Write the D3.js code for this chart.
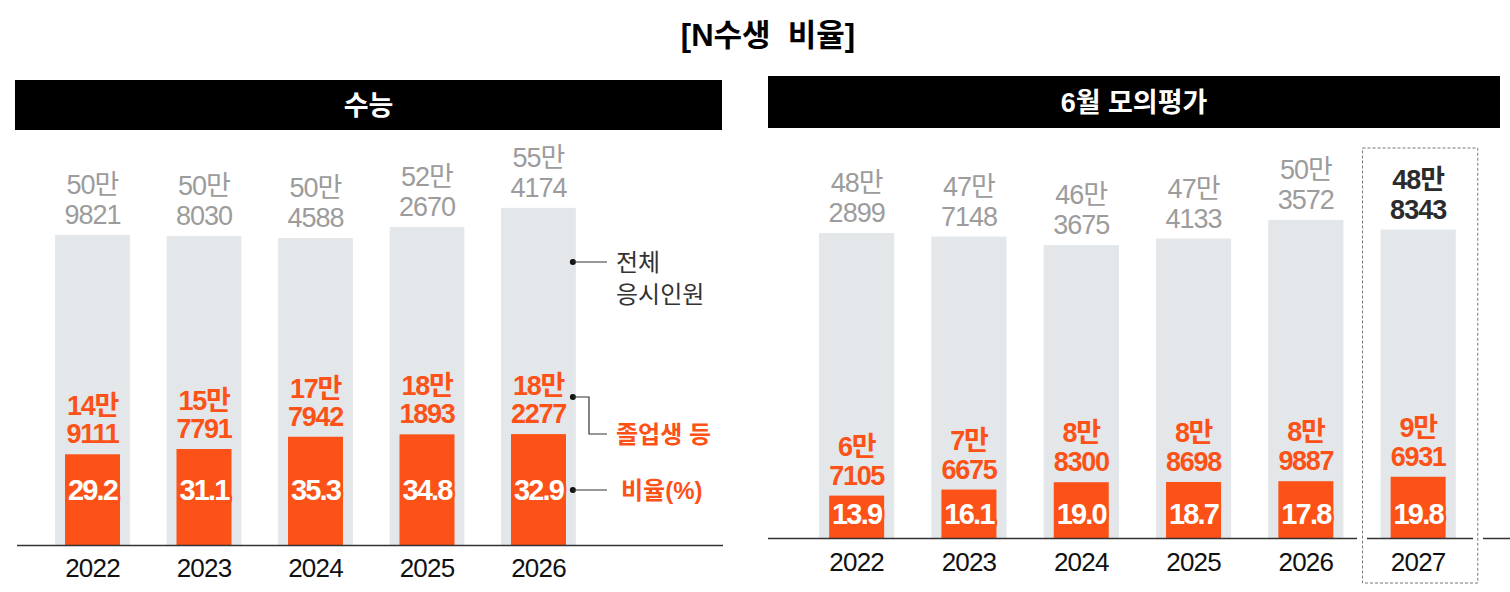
<!DOCTYPE html>
<html>
<head>
<meta charset="utf-8">
<script src="https://cdn.jsdelivr.net/npm/d3@7"></script>
<style>
  body { margin: 0; background: #fff; }
  svg text { font-family: "Liberation Sans", Arial, "Noto Sans CJK KR", sans-serif; }
</style>
</head>
<body>
<div id="chart"></div>
<script>
// 수능
var suneungYears = ["2022", "2023", "2024", "2025", "2026"];
var suneungTotal = [509821, 508030, 504588, 522670, 554174];
var suneungGrad = [149111, 157791, 177942, 181893, 182277];
var suneungRate = [29.2, 31.1, 35.3, 34.8, 32.9];

// 6월 모의평가
var mockYears = ["2022", "2023", "2024", "2025", "2026", "2027"];
var mockTotal = [482899, 477148, 463675, 474133, 503572, 488343];
var mockGrad = [67105, 76675, 88300, 88698, 89887, 96931];
var mockRate = [13.9, 16.1, 19.0, 18.7, 17.8, 19.8];

var orange = "#fc5117",
    lightGray = "#e3e7ea",
    labelGray = "#9c9c9c";

var svg = d3.select("#chart").append("svg")
    .attr("width", 1510)
    .attr("height", 592);

svg.append("text")
    .attr("x", 768)
    .attr("y", 46)
    .attr("text-anchor", "middle")
    .style("font-size", "31px")
    .style("font-weight", "bold")
    .attr("fill", "#000")
    .style("white-space", "pre")
    .text("[N수생  비율]");

function man(v) {
    return [Math.floor(v / 10000) + "만", d3.format("04d")(v % 10000)];
}

function panel(opt) {
    var rows = opt.years.map(function(y, i) {
        return { year: y, total: opt.total[i], grad: opt.grad[i], rate: opt.rate[i] };
    });

    var x = d3.scaleBand()
        .domain(opt.years)
        .range(opt.xRange)
        .paddingInner(0.33)
        .paddingOuter(0.165);

    var y = d3.scaleLinear()
        .domain([0, 600000])
        .range([opt.base, opt.yTop]);

    var g = svg.append("g");

    // header bar
    g.append("rect")
        .attr("x", opt.head[0])
        .attr("y", opt.head[1])
        .attr("width", opt.head[2] - opt.head[0])
        .attr("height", opt.head[3] - opt.head[1])
        .attr("fill", "#000");

    g.append("text")
        .attr("x", (opt.head[0] + opt.head[2]) / 2)
        .attr("y", (opt.head[1] + opt.head[3]) / 2 + 10)
        .attr("text-anchor", "middle")
        .attr("fill", "#fff")
        .style("font-size", "27px")
        .style("font-weight", "bold")
        .text(opt.title);

    var bw = x.bandwidth(),
        ow = 55;

    g.selectAll(".total")
        .data(rows)
        .join("rect")
        .attr("class", "total")
        .attr("x", d => x(d.year))
        .attr("y", d => y(d.total))
        .attr("width", bw)
        .attr("height", d => opt.base - y(d.total))
        .attr("fill", lightGray);

    g.selectAll(".grad")
        .data(rows)
        .join("rect")
        .attr("class", "grad")
        .attr("x", d => x(d.year) + (bw - ow) / 2)
        .attr("y", d => y(d.grad))
        .attr("width", ow)
        .attr("height", d => opt.base - y(d.grad))
        .attr("fill", orange);

    // total labels
    var tl = g.selectAll(".tlabel")
        .data(rows)
        .join("text")
        .attr("class", "tlabel")
        .attr("text-anchor", "middle")
        .attr("fill", d => d.year === opt.highlight ? "#2b2b2b" : labelGray)
        .style("font-size", "27px")
        .style("letter-spacing", "-1px")
        .style("font-weight", d => d.year === opt.highlight ? "bold" : "normal");
    tl.append("tspan")
        .attr("x", d => x(d.year) + bw / 2)
        .attr("y", d => y(d.total) - 41)
        .text(d => man(d.total)[0]);
    tl.append("tspan")
        .attr("x", d => x(d.year) + bw / 2)
        .attr("y", d => y(d.total) - 11)
        .text(d => man(d.total)[1]);

    // grad labels
    var gl = g.selectAll(".glabel")
        .data(rows)
        .join("text")
        .attr("class", "glabel")
        .attr("text-anchor", "middle")
        .attr("fill", orange)
        .style("font-size", "27px")
        .style("font-weight", "bold")
        .style("letter-spacing", "-1.3px");
    gl.append("tspan")
        .attr("x", d => x(d.year) + bw / 2)
        .attr("y", d => y(d.grad) - 11 - opt.gradGap)
        .text(d => man(d.grad)[0]);
    gl.append("tspan")
        .attr("x", d => x(d.year) + bw / 2)
        .attr("y", d => y(d.grad) - 11)
        .text(d => man(d.grad)[1]);

    // rate labels
    g.selectAll(".rlabel")
        .data(rows)
        .join("text")
        .attr("class", "rlabel")
        .attr("x", d => x(d.year) + bw / 2)
        .attr("y", opt.base - opt.rateOff + 10)
        .attr("text-anchor", "middle")
        .attr("fill", "#fff")
        .attr("stroke", orange)
        .attr("stroke-width", 5)
        .attr("stroke-linejoin", "round")
        .style("paint-order", "stroke")
        .style("font-size", "29px")
        .style("font-weight", "bold")
        .style("letter-spacing", "-1.8px")
        .text(d => d3.format(".1f")(d.rate));

    // year axis
    var axis = g.append("g")
        .attr("transform", "translate(0," + opt.base + ")")
        .call(d3.axisBottom(x).tickSize(0).tickPadding(0));
    axis.select(".domain").remove();
    axis.selectAll("text")
        .attr("y", opt.yearOff)
        .attr("dy", null)
        .attr("fill", "#111")
        .style("font-size", "26px")
        .style("letter-spacing", "-0.8px")
        .style("font-family", "\"Liberation Sans\", Arial, sans-serif");

    opt.baseSegs.forEach(function(s) {
        g.append("line")
            .attr("x1", s[0]).attr("x2", s[1])
            .attr("y1", opt.base + 0.5).attr("y2", opt.base + 0.5)
            .attr("stroke", "#333")
            .attr("stroke-width", 1.5);
    });

    return { x: x, y: y, g: g, bw: bw };
}

var left = panel({
    title: "수능",
    years: suneungYears, total: suneungTotal, grad: suneungGrad, rate: suneungRate,
    xRange: [36.75, 594.25],
    base: 545, yTop: 180,
    head: [15, 80, 722, 130],
    gradGap: 28, rateOff: 55, yearOff: 32,
    baseSegs: [[17, 723]]
});

var right = panel({
    title: "6월 모의평가",
    years: mockYears, total: mockTotal, grad: mockGrad, rate: mockRate,
    xRange: [800.5, 1474.3],
    base: 538, yTop: 159,
    head: [768, 76, 1500, 128],
    gradGap: 29, rateOff: 24, yearOff: 33,
    highlight: "2027",
    baseSegs: [[768, 1357], [1367, 1473], [1483, 1510]]
});

// 2027 dashed box
var bx = right.x("2027");
right.g.append("rect")
    .attr("x", bx - 18)
    .attr("y", 148)
    .attr("width", right.bw + 40)
    .attr("height", 435)
    .attr("fill", "none")
    .attr("stroke", "#777")
    .attr("stroke-width", 1)
    .attr("stroke-dasharray", "3,2");

// legend annotations on 수능 panel
var ax = left.x("2026") + left.bw - 3;
var ann = left.g.append("g");

function dot(cx, cy) {
    ann.append("circle").attr("cx", cx).attr("cy", cy).attr("r", 3).attr("fill", "#111");
}

dot(ax, 262);
ann.append("line").attr("x1", ax).attr("x2", 607).attr("y1", 262).attr("y2", 262)
    .attr("stroke", "#333").attr("stroke-width", 1.2);
var t1 = ann.append("text").attr("fill", "#333").style("font-size", "24px");
t1.append("tspan").attr("x", 616).attr("y", 271).text("전체");
t1.append("tspan").attr("x", 616).attr("y", 303).text("응시인원");

dot(ax, 397);
ann.append("path")
    .attr("d", "M" + ax + ",397 H589 V434 H607")
    .attr("fill", "none").attr("stroke", "#333").attr("stroke-width", 1.2);
ann.append("text").attr("x", 616).attr("y", 443)
    .attr("fill", orange).style("font-size", "24px").style("font-weight", "bold")
    .text("졸업생 등");

dot(ax, 490);
ann.append("line").attr("x1", ax).attr("x2", 607).attr("y1", 490).attr("y2", 490)
    .attr("stroke", "#333").attr("stroke-width", 1.2);
ann.append("text").attr("x", 621).attr("y", 499)
    .attr("fill", orange).style("font-size", "24px").style("font-weight", "bold")
    .text("비율(%)");
</script>
</body>
</html>
